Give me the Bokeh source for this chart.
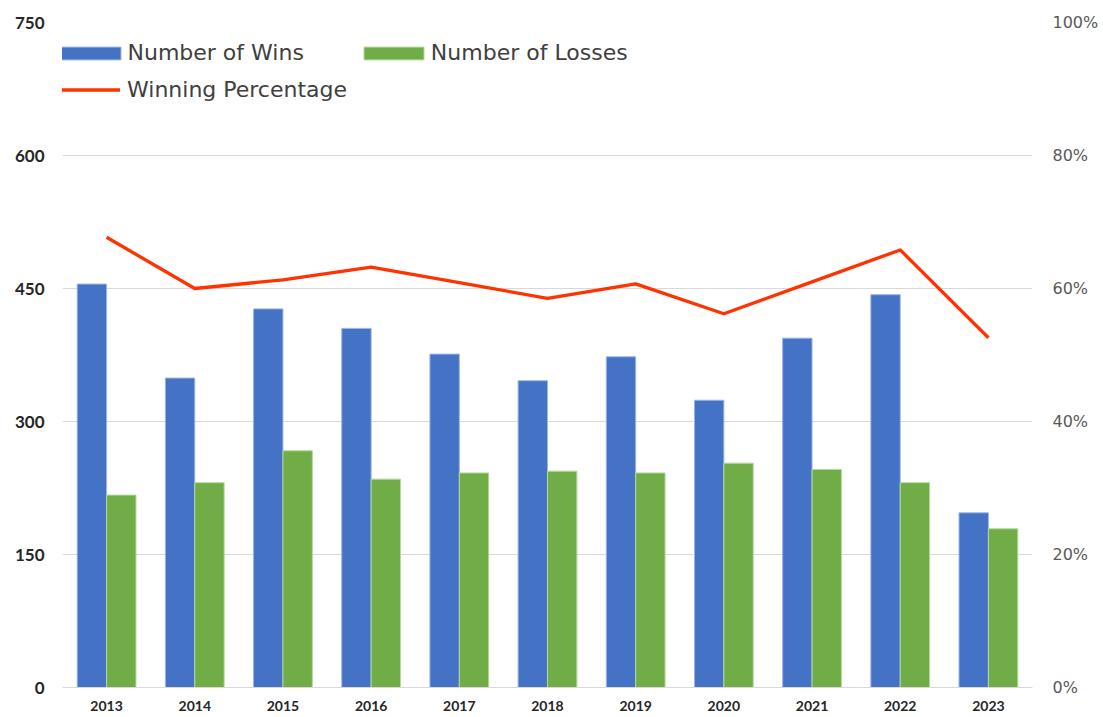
from bokeh.plotting import figure
from bokeh.models import (FactorRange, Range1d, LinearAxis, FixedTicker, NumeralTickFormatter,
                          ColumnDataSource, Legend, LegendItem)
from bokeh.transform import dodge
from bokeh.embed import file_html
from bokeh.resources import INLINE

years = ["2013", "2014", "2015", "2016", "2017", "2018", "2019", "2020", "2021", "2022", "2023"]
wins = [455, 349, 427, 405, 376, 346, 373, 324, 394, 443, 197]
losses = [217, 231, 267, 235, 242, 244, 242, 253, 246, 231, 179]
win_pct = [0.677, 0.600, 0.613, 0.632, 0.609, 0.585, 0.607, 0.562, 0.610, 0.658, 0.526]

left_ticks = [0, 150, 300, 450, 600, 750]
right_ticks = [0, 0.2, 0.4, 0.6, 0.8, 1.0]

src = ColumnDataSource(dict(year=years, wins=wins, losses=losses, pct=win_pct))

p = figure(x_range=FactorRange(*years), y_range=Range1d(0, 750),
           frame_width=970, frame_height=665,
           min_border_left=62, min_border_right=68, min_border_top=22, min_border_bottom=26,
           output_backend="svg", toolbar_location=None)
p.outline_line_color = None
p.background_fill_color = "white"
p.border_fill_color = "white"

p.extra_y_ranges = {"pct": Range1d(0, 1)}

r_w = p.vbar(x=dodge("year", -0.1667, range=p.x_range), top="wins", width=0.3333, source=src,
             fill_color="#4472C4", line_color="#9DB5E3", line_width=1)
r_l = p.vbar(x=dodge("year", 0.1667, range=p.x_range), top="losses", width=0.3333, source=src,
             fill_color="#70AD47", line_color="#B5D99C", line_width=1)
r_p = p.line(x="year", y="pct", source=src, y_range_name="pct",
             line_color="#FF3300", line_width=3.3, line_join="round")

# left axis
ya = p.yaxis[0]
ya.ticker = FixedTicker(ticks=left_ticks)
ya.axis_line_color = None
ya.major_tick_line_color = None
ya.minor_tick_line_color = None
ya.major_tick_out = 0
ya.major_tick_in = 0
ya.major_label_standoff = 18
ya.major_label_text_font = "Lato"
ya.major_label_text_font_style = "bold"
ya.major_label_text_font_size = "17px"
ya.major_label_text_color = "#262626"

# right axis
ra = LinearAxis(y_range_name="pct", ticker=FixedTicker(ticks=right_ticks),
                formatter=NumeralTickFormatter(format="0%"))
ra.axis_line_color = None
ra.major_tick_line_color = None
ra.minor_tick_line_color = None
ra.major_tick_out = 0
ra.major_tick_in = 0
ra.major_label_standoff = 20
ra.major_label_text_font = "DejaVu Sans"
ra.major_label_text_font_size = "16px"
ra.major_label_text_color = "#595959"
p.add_layout(ra, "right")

# x axis
xa = p.xaxis[0]
xa.axis_line_color = "#D9D9D9"
xa.axis_line_width = 1
xa.major_tick_line_color = None
xa.minor_tick_line_color = None
xa.major_tick_out = 0
xa.major_tick_in = 0
xa.major_label_standoff = 13
xa.major_label_text_font = "Lato"
xa.major_label_text_font_style = "bold"
xa.major_label_text_font_size = "14px"
xa.major_label_text_color = "#262626"

p.xgrid.grid_line_color = None
p.ygrid.grid_line_color = "#D9D9D9"
p.ygrid.grid_line_width = 1

common = dict(padding=0, margin=0, label_text_font="DejaVu Sans", label_text_font_size="22px",
              label_text_color="#404040", border_line_color=None, background_fill_alpha=0)

legend_bars = Legend(items=[LegendItem(label="Number of Wins", renderers=[r_w]),
                            LegendItem(label="Number of Losses", renderers=[r_l])],
                     location=(-9.5, 622), orientation="horizontal",
                     glyph_width=75, glyph_height=16, label_standoff=0, spacing=52,
                     **common)
legend_line = Legend(items=[LegendItem(label="Winning Percentage", renderers=[r_p])],
                     location=(-4, 585.5), orientation="horizontal",
                     glyph_width=62, glyph_height=13, label_standoff=7, spacing=0,
                     **common)
p.add_layout(legend_bars, "center")
p.add_layout(legend_line, "center")

open("out.html", "w").write(file_html(p, INLINE))
